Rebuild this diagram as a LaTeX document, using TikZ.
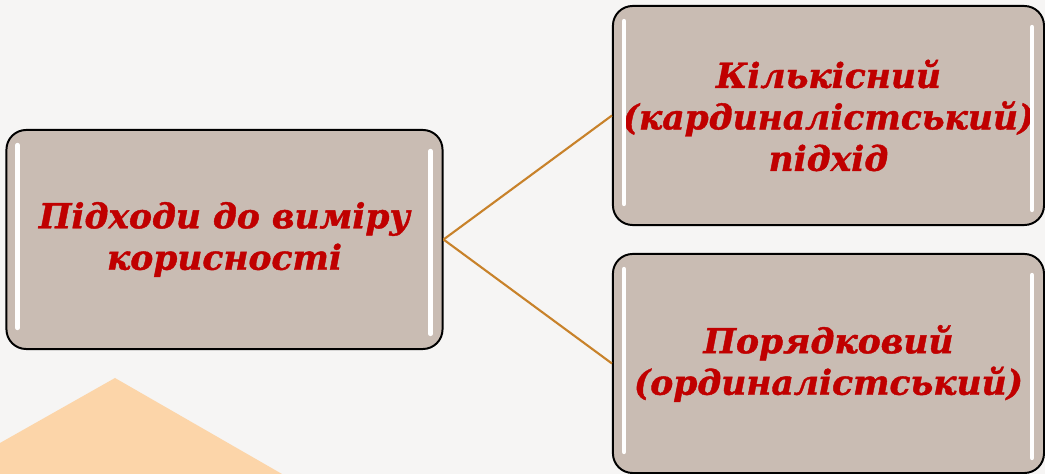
\documentclass[tikz,border=0pt]{standalone}
\usepackage{fontspec}
\setmainfont[BoldItalicFeatures={FakeBold=1.2}]{DejaVu Serif}
\usetikzlibrary{positioning}
\definecolor{bgcol}{HTML}{F6F5F4}
\definecolor{peach}{HTML}{FCD5A9}
\definecolor{boxfill}{HTML}{C9BCB3}
\definecolor{txtred}{HTML}{C00000}
\definecolor{linkcol}{HTML}{C8822A}

\begin{document}
\begin{tikzpicture}[x=0.025cm,y=-0.025cm,
  approach/.style={draw=black,line width=1.4pt,fill=boxfill,rounded corners=14pt,
    minimum height=5.475cm,inner sep=0pt,align=center,text=txtred,
    font=\fontsize{24.5}{29.5}\selectfont\bfseries\itshape},
  link/.style={draw=linkcol,line width=1.5pt},
  glint/.style={draw=white,line width=3pt,line cap=round}]
\fill[bgcol] (0,0) rectangle (1045,474);
\fill[peach] (0,443) -- (115,378) -- (282,474) -- (0,474) -- cycle;

\node[approach,minimum width=10.9cm] (util) at (224.5,239.5) {Підходи до виміру\\корисності};
\node[approach,minimum width=10.775cm] (card) at (828.5,115.5) {Кількісний\\(кардиналістський)\\підхід};
\node[approach,minimum width=10.775cm] (ord) at (828.5,363.5) {Порядковий\\(ординалістський)};

\foreach \n in {util,card,ord}{
  \draw[glint] ([shift={(12,16)}]\n.north west) -- ([shift={(12,-22)}]\n.south west);
  \draw[glint] ([shift={(-13,22)}]\n.north east) -- ([shift={(-13,-16)}]\n.south east);
}

\draw[link] (util.east) -- (card.west);
\draw[link] (util.east) -- (ord.west);
\end{tikzpicture}
\end{document}
